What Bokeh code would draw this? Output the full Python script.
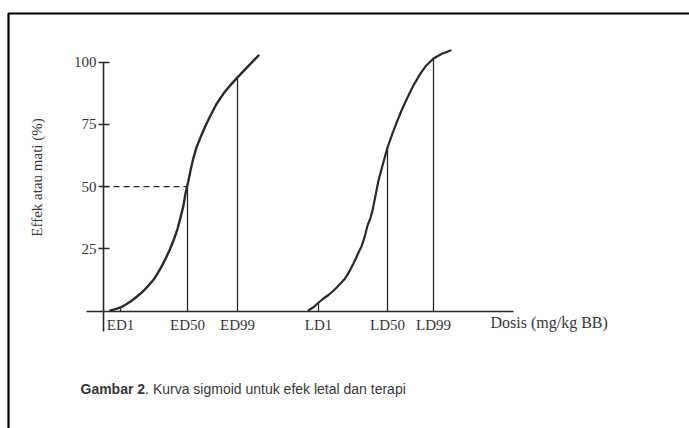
import math
from bokeh.plotting import figure
from bokeh.models import LinearAxis, FixedTicker, Range1d, Label
from bokeh.embed import file_html
from bokeh.resources import INLINE

# ---- data ----
# Therapeutic effect curve (dose, % effect)
ed_dose = [0.7, 1.2, 1.7, 2.2, 2.7, 3.2, 3.7, 4.1, 4.5, 5.0, 5.4, 5.8, 6.2, 6.6, 7.0, 7.4, 7.7, 8.0, 8.2,
           8.5, 8.7, 9.0, 9.3, 9.7, 10.2, 10.7, 11.3, 12.0, 12.7, 13.4, 14.5, 15.5]
ed_eff = [0.3, 0.8, 1.5, 2.6, 3.9, 5.4, 7.1, 8.6, 10.3, 12.6, 15.1, 17.9, 21.0, 24.5, 28.4, 33.0, 37.6, 42.5, 47.3,
          52.5, 56.5, 61.7, 65.8, 69.8, 74.5, 78.6, 83.2, 87.4, 90.8, 93.9, 98.5, 102.7]

# Lethal curve (dose, % death)
ld_dose = [20.5, 21.0, 21.4, 22.0, 22.5, 22.9, 23.3, 23.7, 24.1, 24.4, 24.7, 25.0, 25.3, 25.5, 25.8, 26.0, 26.2,
           26.4, 26.7, 26.9, 27.2, 27.5, 27.9, 28.4, 28.9, 29.4, 29.9, 30.4, 31.0, 31.7, 32.3, 33.0, 33.8, 34.7]
ld_eff = [0.3, 1.6, 3.1, 5.1, 6.5, 7.9, 9.4, 11.1, 12.8, 14.7, 16.8, 19.2, 21.8, 23.6, 26.0, 28.4, 31.2,
          34.4, 37.5, 40.4, 46.5, 52.5, 58.5, 65.7, 71.4, 76.6, 81.5, 85.8, 90.7, 95.5, 98.8, 101.5, 103.3, 104.7]

# Marked doses and the height of their vertical lines
marker_names = ["ED1", "ED50", "ED99", "LD1", "LD50", "LD99"]
marker_dose = [1.7, 8.4, 13.4, 21.5, 28.4, 33.0]
marker_top = [1.5, 50.0, 93.9, 3.2, 65.7, 101.5]

y_ticks = [25, 50, 75, 100]
y_tick_labels = ["25", "50", "75", "100"]

ink = "#2a2a2a"
text_col = "#383838"
serif = "Liberation Serif"

p = figure(width=689, height=428,
           x_range=Range1d(-10.3, 58.6), y_range=Range1d(-47.11, 124.78),
           output_backend="svg", toolbar_location=None,
           x_axis_location=None, y_axis_location=None,
           min_border=0, outline_line_color=None,
           background_fill_color="white", border_fill_color="white")
p.grid.grid_line_color = None

# outer frame (top and left edges visible in the scan)
p.line(x=[60, -9.5, -9.5], y=[119.56, 119.56, -50], line_width=2.2, color="black")

# y axis
yax = LinearAxis(fixed_location=0, bounds=(-8.2, 100),
                 ticker=FixedTicker(ticks=y_ticks),
                 major_label_overrides={t: l for t, l in zip(y_ticks, y_tick_labels)},
                 axis_line_color=ink, axis_line_width=1.6,
                 major_tick_line_color=ink, major_tick_line_width=1.3,
                 major_tick_in=6, major_tick_out=5,
                 minor_tick_line_color=None,
                 major_label_standoff=2,
                 major_label_text_font=serif, major_label_text_font_size="15px",
                 major_label_text_color=text_col)
p.add_layout(yax, "left")

# x axis
xax = LinearAxis(fixed_location=0, bounds=(-1.7, 41.0),
                 ticker=FixedTicker(ticks=marker_dose),
                 major_label_overrides={d: n for d, n in zip(marker_dose, marker_names)},
                 axis_line_color=ink, axis_line_width=1.6,
                 major_tick_line_color=None, major_tick_in=0, major_tick_out=0,
                 minor_tick_line_color=None,
                 major_label_standoff=6,
                 major_label_text_font=serif, major_label_text_font_size="15px",
                 major_label_text_color=text_col)
p.add_layout(xax, "below")

# curves
p.line(ed_dose, ed_eff, line_width=2.4, color=ink, line_join="round", line_cap="round")
p.line(ld_dose, ld_eff, line_width=2.2, color=ink, line_join="round", line_cap="round")

# vertical marker lines
p.segment(x0=marker_dose, y0=[0] * len(marker_dose), x1=marker_dose, y1=marker_top,
          line_width=1.3, color=ink)

# dashed 50% guide to ED50
p.segment(x0=[0], y0=[50], x1=[marker_dose[1]], y1=[50],
          line_width=1.3, color=ink, line_dash="6 4")

# axis titles
p.add_layout(Label(x=-6.7, y=53.7, text="Effek atau mati (%)", angle=math.pi / 2,
                   text_align="center", text_baseline="middle",
                   text_font=serif, text_font_size="15px", text_color=text_col))
p.add_layout(Label(x=38.7, y=-4.5, text="Dosis (mg/kg BB)",
                   text_align="left", text_baseline="middle",
                   text_font=serif, text_font_size="16px", text_color=text_col))

# caption
p.add_layout(Label(x=-2.3, y=-31.4, text="Gambar 2",
                   text_align="left", text_baseline="middle",
                   text_font="Liberation Sans", text_font_style="bold",
                   text_font_size="14px", text_color=text_col))
p.add_layout(Label(x=4.16, y=-31.4, text=". Kurva sigmoid untuk efek letal dan terapi",
                   text_align="left", text_baseline="middle",
                   text_font="Liberation Sans",
                   text_font_size="14px", text_color=text_col))

open("out.html", "w").write(file_html(p, INLINE))
